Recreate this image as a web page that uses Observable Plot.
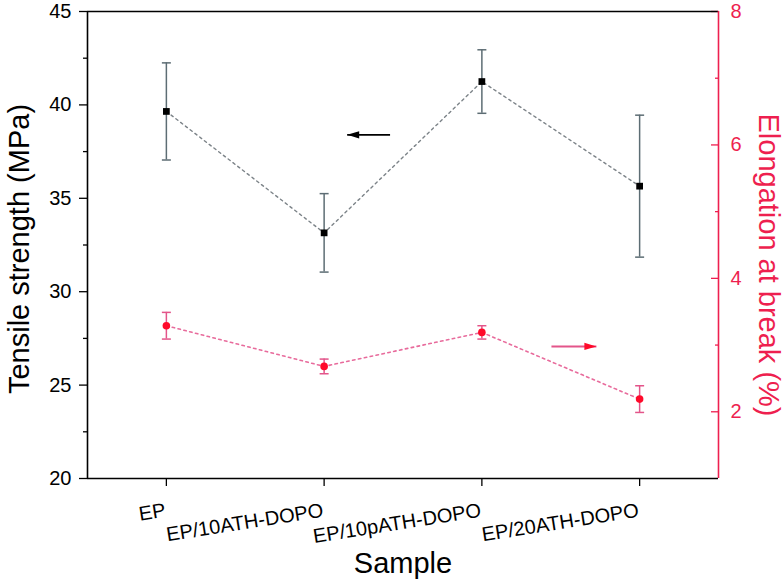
<!DOCTYPE html>
<html>
<head>
<meta charset="utf-8">
<script src="https://cdn.jsdelivr.net/npm/d3@7"></script>
<script src="https://cdn.jsdelivr.net/npm/@observablehq/plot@0.6"></script>
<style>
  body { margin: 0; background: #fff; }
  #chart svg { display: block; }
</style>
</head>
<body>
<div id="chart"></div>
<script>
// ---- data ----
const categories = ["EP", "EP/10ATH-DOPO", "EP/10pATH-DOPO", "EP/20ATH-DOPO"];
const tensile = [39.65, 33.15, 41.25, 35.65];       // MPa (left axis)
const tensileErr = [2.6, 2.1, 1.7, 3.8];
const elongation = [3.29, 2.68, 3.19, 2.19];        // % (right axis)
const elongationErr = [0.2, 0.11, 0.1, 0.2];
const leftTicks = [20, 25, 30, 35, 40, 45];
const leftMinorTicks = [22.5, 27.5, 32.5, 37.5, 42.5];
const rightTicks = [2, 4, 6, 8];
const rightMinorTicks = [3, 5, 7];
const leftDomain = [20, 45];
const rightDomain = [1, 8];
// annotation arrows (data coordinates: x = category index, y = axis value)
const arrowTensile = [{x1: 1.418, x2: 1.146, y: 38.4}];
const arrowElong = [{x1: 2.441, x2: 2.726, e: 2.98}];

// ---- mapping right axis onto left scale ----
const toT = e => leftDomain[0] + (e - rightDomain[0]) * (leftDomain[1] - leftDomain[0]) / (rightDomain[1] - rightDomain[0]);
const fromT = t => rightDomain[0] + (t - leftDomain[0]) * (rightDomain[1] - rightDomain[0]) / (leftDomain[1] - leftDomain[0]);

const tensileRows = categories.map((c, i) => ({i, v: tensile[i], lo: tensile[i] - tensileErr[i], hi: tensile[i] + tensileErr[i]}));
const elongRows = categories.map((c, i) => ({i, v: toT(elongation[i]), lo: toT(elongation[i] - elongationErr[i]), hi: toT(elongation[i] + elongationErr[i])}));
const arrowElongRows = arrowElong.map(d => ({x1: d.x1, x2: d.x2, y: toT(d.e)}));

const red = "#ee1f4f";
const pinkBar = "#e3558a";
const pinkLine = "#e86b9c";
const grayBar = "#5d6d74";
const grayLine = "#7c8388";
const font = "'Liberation Sans', Arial, Helvetica, sans-serif";

const cap = w => ({draw(ctx) { ctx.moveTo(-w, 0); ctx.lineTo(w, 0); }});
const headRight = {draw(ctx) { ctx.moveTo(0, 0); ctx.lineTo(-12, -3.6); ctx.lineTo(-12, 3.6); ctx.closePath(); }};
const headLeft = {draw(ctx) { ctx.moveTo(0, 0); ctx.lineTo(12, -3.6); ctx.lineTo(12, 3.6); ctx.closePath(); }};

const chart = Plot.plot({
  width: 784,
  height: 585,
  marginLeft: 87,
  marginRight: 66,
  marginTop: 11,
  marginBottom: 107,
  style: {fontFamily: font, background: "#fff", color: "#000", overflow: "visible"},
  x: {type: "linear", domain: [-0.5, 3.5], axis: null},
  y: {domain: leftDomain, axis: null},
  marks: [
    // left axis
    Plot.axisY(leftTicks, {anchor: "left", tickSize: 8, tickPadding: 8, fontSize: 20, label: null, strokeWidth: 1.3}),
    Plot.axisY(leftMinorTicks, {anchor: "left", tickSize: 4, tickFormat: () => "", label: null, strokeWidth: 1.3}),
    // right axis (ticks inward)
    Plot.axisY(rightTicks.map(toT), {anchor: "right", tickSize: 8, dx: -8, tickPadding: 12, fontSize: 20, label: null,
      tickFormat: t => String(Math.round(fromT(t))), color: red, strokeWidth: 1.3}),
    Plot.axisY(rightMinorTicks.map(toT), {anchor: "right", tickSize: 4, dx: -4, tickFormat: () => "", label: null, color: red, strokeWidth: 1.3}),
    // bottom ticks
    Plot.axisX(categories.map((c, i) => i), {anchor: "bottom", tickSize: 8, tickFormat: () => "", label: null, strokeWidth: 1.3}),
    // category labels
    Plot.text(categories, {x: (d, i) => i, frameAnchor: "bottom", dy: 38, rotate: -9, textAnchor: "end", lineAnchor: "bottom", fontSize: 20, fill: "#000"}),
    // frame
    Plot.ruleY([leftDomain[1]], {stroke: "#000", strokeWidth: 1.6}),
    Plot.ruleY([leftDomain[0]], {stroke: "#000", strokeWidth: 1.6}),
    Plot.ruleX([-0.5], {stroke: "#000", strokeWidth: 1.6}),
    Plot.ruleX([3.5], {stroke: red, strokeWidth: 1.6}),
    // tensile series
    Plot.line(tensileRows, {x: "i", y: "v", stroke: grayLine, strokeWidth: 1.4, strokeDasharray: "2.5,3.5"}),
    Plot.ruleX(tensileRows, {x: "i", y1: "lo", y2: "hi", stroke: grayBar, strokeWidth: 1.5}),
    Plot.dot(tensileRows, {x: "i", y: "lo", symbol: cap(4.5), stroke: grayBar, strokeWidth: 1.5, fill: "none"}),
    Plot.dot(tensileRows, {x: "i", y: "hi", symbol: cap(4.5), stroke: grayBar, strokeWidth: 1.5, fill: "none"}),
    Plot.dot(tensileRows, {x: "i", y: "v", symbol: "square", r: 3.8, fill: "#000", stroke: "none"}),
    // elongation series
    Plot.line(elongRows, {x: "i", y: "v", stroke: pinkLine, strokeWidth: 1.6, strokeDasharray: "2.5,3.5"}),
    Plot.ruleX(elongRows, {x: "i", y1: "lo", y2: "hi", stroke: pinkBar, strokeWidth: 1.5}),
    Plot.dot(elongRows, {x: "i", y: "lo", symbol: cap(4.5), stroke: pinkBar, strokeWidth: 1.5, fill: "none"}),
    Plot.dot(elongRows, {x: "i", y: "hi", symbol: cap(4.5), stroke: pinkBar, strokeWidth: 1.5, fill: "none"}),
    Plot.dot(elongRows, {x: "i", y: "v", r: 3.8, fill: "#ff0a2a", stroke: "none"}),
    // arrows
    Plot.link(arrowTensile, {x1: "x1", x2: "x2", y1: "y", y2: "y", stroke: "#000", strokeWidth: 1.8}),
    Plot.dot(arrowTensile, {x: "x2", y: "y", symbol: headLeft, fill: "#000", stroke: "none"}),
    Plot.link(arrowElongRows, {x1: "x1", x2: "x2", y1: "y", y2: "y", stroke: pinkBar, strokeWidth: 2}),
    Plot.dot(arrowElongRows, {x: "x2", y: "y", symbol: headRight, fill: "#ff0a2a", stroke: "none"}),
    // axis titles
    Plot.text(["Tensile strength (MPa)"], {frameAnchor: "left", textAnchor: "middle", dx: -59, dy: 4, rotate: -90, lineAnchor: "bottom", fontSize: 29, fill: "#000"}),
    Plot.text(["Elongation at break (%)"], {frameAnchor: "right", textAnchor: "middle", dx: 40, dy: 20, rotate: 90, lineAnchor: "bottom", fontSize: 29, fill: red}),
    Plot.text(["Sample"], {frameAnchor: "bottom", textAnchor: "middle", dy: 94, lineAnchor: "bottom", fontSize: 29, fill: "#000"})
  ]
});
document.getElementById("chart").appendChild(chart);
</script>
</body>
</html>
